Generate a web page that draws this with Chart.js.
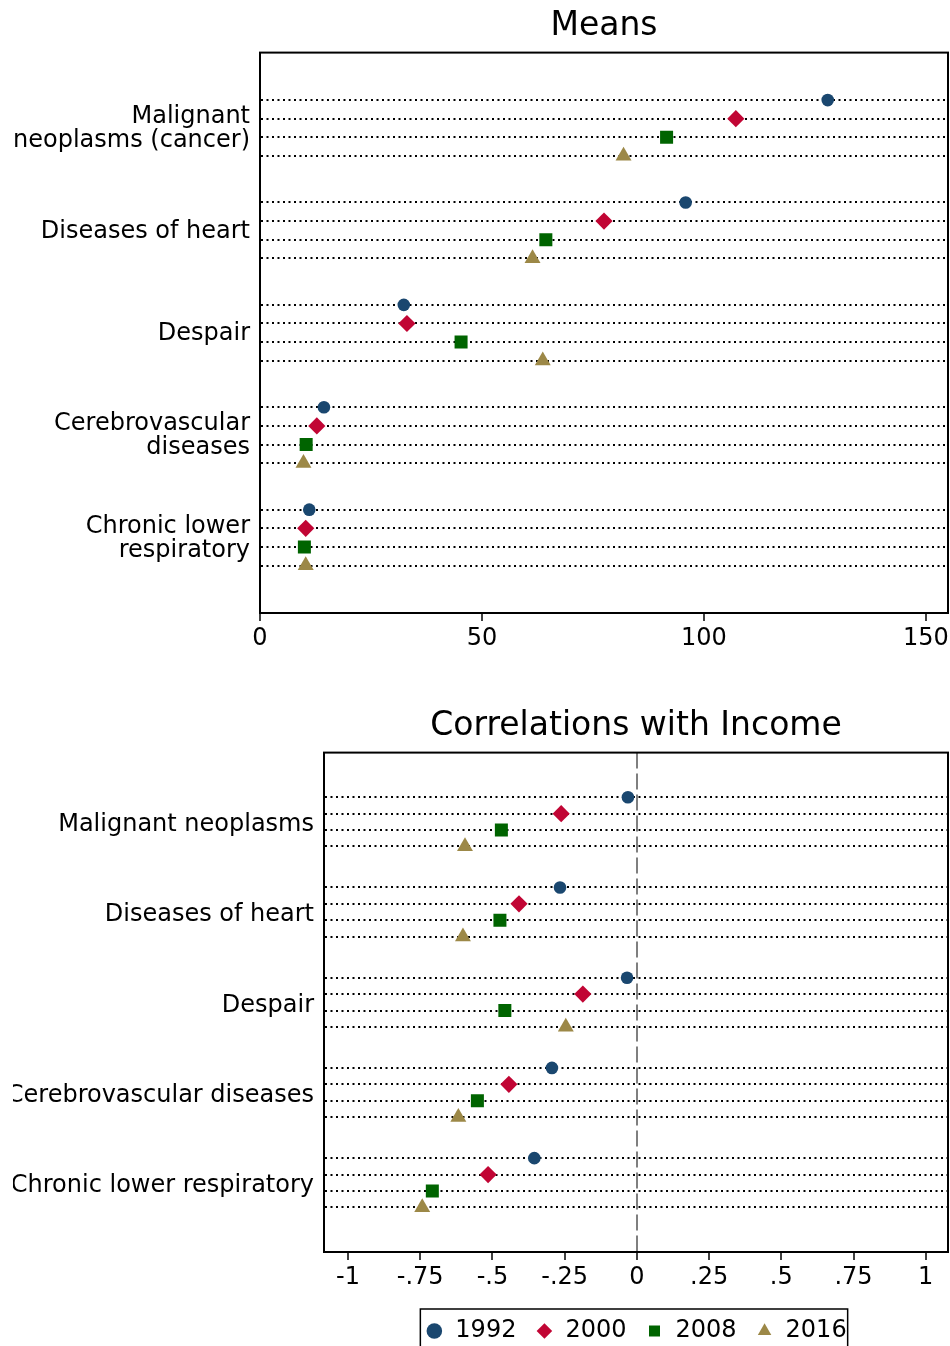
<!DOCTYPE html>
<html><head><meta charset="utf-8">
<script src="https://cdn.jsdelivr.net/npm/chart.js@4.4.1/dist/chart.umd.min.js"></script>
<style>
html,body{margin:0;padding:0;background:#fff;overflow:hidden;width:950px;height:1346px;position:relative;}
canvas{position:absolute;}
#c1{left:13px;top:0px;}
#c2{left:13px;top:680px;}
</style></head><body>
<canvas id="c1" width="937" height="660"></canvas>
<canvas id="c2" width="937" height="700"></canvas>
<script>
// ---------------- data ----------------
const years = ['1992', '2000', '2008', '2016'];
const meanCategories = [['Malignant', 'neoplasms (cancer)'], 'Diseases of heart', 'Despair', ['Cerebrovascular', 'diseases'], ['Chronic lower', 'respiratory']];
const corrCategories = ['Malignant neoplasms', 'Diseases of heart', 'Despair', 'Cerebrovascular diseases', 'Chronic lower respiratory'];

const means1992 = [127.9, 95.9, 32.4, 14.4, 11.1];
const means2000 = [107.2, 77.5, 33.1, 12.8, 10.3];
const means2008 = [91.6, 64.4, 45.3, 10.4, 10.0];
const means2016 = [81.9, 61.4, 63.7, 9.8, 10.3];

const corr1992 = [-0.031, -0.266, -0.034, -0.294, -0.355];
const corr2000 = [-0.262, -0.408, -0.187, -0.443, -0.515];
const corr2008 = [-0.469, -0.474, -0.457, -0.552, -0.708];
const corr2016 = [-0.595, -0.602, -0.246, -0.618, -0.743];

const meanTicks = [0, 50, 100, 150];
const corrTicks = [-1, -0.75, -0.5, -0.25, 0, 0.25, 0.5, 0.75, 1];
const corrTickLabels = ['-1', '-.75', '-.5', '-.25', '0', '.25', '.5', '.75', '1'];

// ---------------- styles ----------------
const FONT = 'DejaVu Sans';
Chart.defaults.font.family = FONT;
Chart.defaults.color = '#000';
const seriesColors = ['#1a476f', '#c10534', '#006400', '#9c8847'];
const seriesStyles = ['circle', 'rectRot', 'rect', 'triangle'];
const seriesRadii = [6.3, 8.6, 9.2, 9.2];
const GROUP_STEP = 5.5;

const framePlugin = {
  id: 'frame',
  afterDraw(chart) {
    const a = chart.chartArea, ctx = chart.ctx;
    ctx.save();
    ctx.strokeStyle = '#000';
    ctx.lineWidth = 2;
    ctx.strokeRect(a.left, a.top, a.right - a.left, a.bottom - a.top);
    ctx.restore();
  }
};

const legendBoxPlugin = {
  id: 'legendBox',
  afterDraw(chart) {
    const lg = chart.legend;
    if (!lg || !lg.options.display || !lg.legendHitBoxes || !lg.legendHitBoxes.length) return;
    const hb = lg.legendHitBoxes;
    const first = hb[0], last = hb[hb.length - 1];
    const ctx = chart.ctx;
    ctx.save();
    ctx.strokeStyle = '#000';
    ctx.lineWidth = 1.5;
    const left = first.left - 5, right = last.left + last.width + 1;
    const top = first.top - 10;
    ctx.strokeRect(left, top, right - left, chart.height + 20 - top);
    ctx.restore();
  }
};

function makeChart(canvasId, opts) {
  const {categories, series, title, xMin, xMax, xTicks, xTickLabels, yMin, yMax,
         yAxisWidth, xAxisHeight, zeroLine, legend, padTop, padBottom, labelShift} = opts;
  const rowValues = [];
  const centers = categories.map((c, g) => g * GROUP_STEP + 1.5);
  categories.forEach((c, g) => { for (let s = 0; s < series.length; s++) rowValues.push(g * GROUP_STEP + s); });
  const isRow = v => rowValues.some(r => Math.abs(r - v) < 1e-6);

  const datasets = series.map((vals, s) => ({
    label: years[s],
    data: vals.map((v, g) => ({ x: v, y: g * GROUP_STEP + s })),
    pointStyle: seriesStyles[s],
    pointRadius: seriesRadii[s],
    pointHoverRadius: seriesRadii[s],
    backgroundColor: seriesColors[s],
    borderColor: seriesColors[s],
    pointBorderWidth: 0,
    borderWidth: 0,
    showLine: false
  }));

  return new Chart(document.getElementById(canvasId), {
    type: 'scatter',
    data: { datasets },
    plugins: legend ? [framePlugin, legendBoxPlugin] : [framePlugin],
    options: {
      responsive: false,
      animation: false,
      events: [],
      layout: { autoPadding: false, padding: { top: padTop, right: 2, left: 0, bottom: padBottom } },
      plugins: {
        title: {
          display: true, text: title, fullSize: false, color: '#000',
          font: { family: FONT, size: 33, weight: 'normal', lineHeight: 1.2 },
          padding: { top: 7, bottom: 6 }
        },
        legend: legend ? {
          display: true, position: 'bottom', fullSize: false,
          labels: {
            usePointStyle: true, boxWidth: 18, boxHeight: 11, padding: 19, color: '#000',
            font: { family: FONT, size: 24 }
          }
        } : { display: false },
        tooltip: { enabled: false }
      },
      scales: {
        x: {
          type: 'linear', position: 'bottom', min: xMin, max: xMax,
          afterBuildTicks: s => { s.ticks = xTicks.map(v => ({ value: v })); },
          afterFit: s => { s.height = xAxisHeight; s.paddingLeft = 0; s.paddingRight = 0; },
          ticks: {
            autoSkip: false, maxRotation: 0, padding: 3, color: '#000',
            font: { family: FONT, size: 24 },
            callback: (v) => { const i = xTicks.findIndex(t => Math.abs(t - v) < 1e-9); return i >= 0 ? xTickLabels[i] : ''; }
          },
          grid: {
            drawOnChartArea: zeroLine,
            color: ctx => (zeroLine && ctx.tick && Math.abs(ctx.tick.value) < 1e-9) ? '#7f7f7f' : 'rgba(0,0,0,0)',
            lineWidth: 2,
            tickColor: '#000', tickWidth: 1.5, tickLength: 8
          },
          border: { display: true, color: '#000', width: 2, dash: [16, 5] }
        },
        y: {
          type: 'linear', position: 'left', reverse: true, min: yMin, max: yMax,
          afterBuildTicks: s => { s.ticks = rowValues.concat(centers).sort((a, b) => a - b).map(v => ({ value: v })); },
          afterFit: s => { s.width = yAxisWidth; s.paddingTop = 0; s.paddingBottom = 0; },
          ticks: {
            autoSkip: false, padding: 10, color: '#000', labelOffset: labelShift,
            font: { family: FONT, size: 24, lineHeight: 1.0 },
            callback: (v) => { const i = centers.findIndex(c => Math.abs(c - v) < 1e-6); return i >= 0 ? categories[i] : ''; }
          },
          grid: {
            drawTicks: false,
            lineWidth: 2,
            color: ctx => (ctx.tick && isRow(ctx.tick.value)) ? '#000' : 'rgba(0,0,0,0)'
          },
          border: { display: true, color: '#000', width: 2, dash: [2, 3.5] }
        }
      }
    }
  });
}

makeChart('c1', {
  categories: meanCategories,
  series: [means1992, means2000, means2008, means2016],
  title: 'Means',
  xMin: 0, xMax: 155, xTicks: meanTicks, xTickLabels: meanTicks.map(String),
  yMin: -2.55, yMax: 27.55,
  yAxisWidth: 247, xAxisHeight: 47, zeroLine: false, legend: false,
  padTop: 0, padBottom: 0, labelShift: 1
});

makeChart('c2', {
  categories: corrCategories,
  series: [corr1992, corr2000, corr2008, corr2016],
  title: 'Correlations with Income',
  xMin: -1.083, xMax: 1.077, xTicks: corrTicks, xTickLabels: corrTickLabels,
  yMin: -2.72, yMax: 27.72,
  yAxisWidth: 311, xAxisHeight: 48, zeroLine: true, legend: true,
  padTop: 20, padBottom: 27, labelShift: 3
});
</script>
</body></html>
